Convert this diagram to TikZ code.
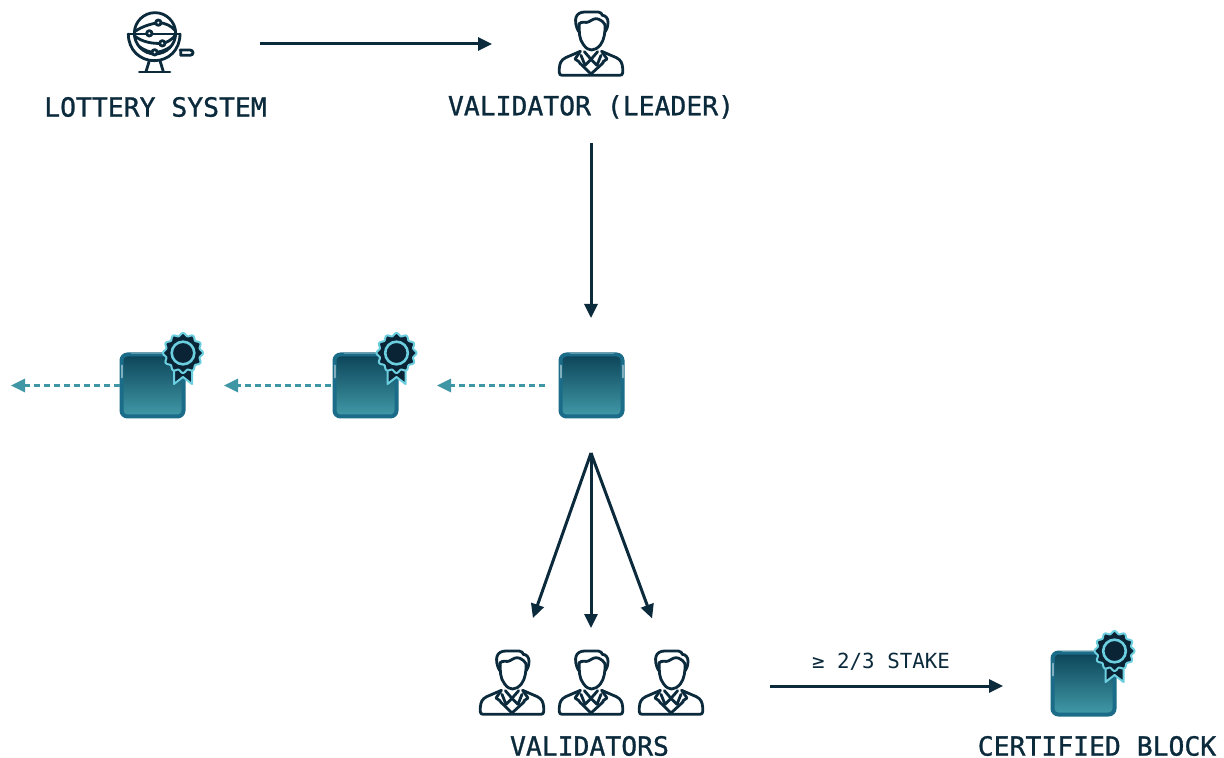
\documentclass[tikz,border=0pt]{standalone}
\usepackage{fontspec}
\setmainfont{DejaVu Sans Mono}
\usetikzlibrary{arrows.meta,calc}
\definecolor{ink}{HTML}{0B2A3C}
\definecolor{teal1}{HTML}{3F97A5}
\definecolor{blocktop}{HTML}{0C4459}
\definecolor{blockbot}{HTML}{419AA8}
\definecolor{blockedge}{HTML}{1B6C88}
\definecolor{badgeline}{HTML}{6CCFDF}
\definecolor{badgefill}{HTML}{0A2436}
\tikzset{
  x=0.5pt,y=-0.5pt,
  flow/.style={draw=ink,line width=1.5pt,-{Triangle[length=7pt,width=6.5pt]}},
  chain/.style={draw=teal1,line width=1.5pt,dash pattern=on 3pt off 2pt,-{Triangle[length=7pt,width=6.5pt]}},
  label/.style={text=ink,font=\fontsize{13.2pt}{15pt}\selectfont\addfontfeature{FakeBold=1},inner sep=0pt},
  small/.style={text=ink,font=\fontsize{10.4pt}{12pt}\selectfont,inner sep=0pt},
  iconbox/.style={minimum width=33pt,minimum height=33pt,inner sep=0pt},
  blockbox/.style={minimum size=31pt,inner sep=0pt,rounded corners=3pt,draw=blockedge,line width=2pt,top color=blocktop,bottom color=blockbot},
  icon/.style={draw=ink,line width=1.4pt,line join=round,line cap=round},
  person/.pic={
    \begin{scope}[x=1pt/6,y=-1pt/6,shift={(-138,-132)},icon]
      % hair
      \draw (101,95) .. controls (92,80) and (90,62) .. (93,52) .. controls (97,40) and (108,36) .. (120,36)
            -- (160,36) .. controls (168,36) and (170,42) .. (172,46) .. controls (182,46) and (190,56) .. (189,68)
            .. controls (188,80) and (186,88) .. (181,95);
      \draw (101,72) .. controls (112,62) and (122,70) .. (130,66) .. controls (142,60) and (150,52) .. (162,58)
            .. controls (170,62) and (176,66) .. (180,74);
      % face
      \draw (103,72) .. controls (102,95) and (102,118) .. (116,135) .. controls (124,146) and (132,150) .. (140,150)
            .. controls (150,150) and (158,144) .. (166,135) .. controls (178,120) and (181,95) .. (180,74);
      % shoulders
      \draw (106,154) -- (62,173) .. controls (48,180) and (44,190) .. (43,205) -- (43,218)
            .. controls (43,224) and (46,226) .. (52,226) -- (224,226) .. controls (230,226) and (233,224) .. (233,218)
            -- (233,205) .. controls (232,190) and (228,180) .. (214,173) -- (170,154);
      % lapels
      \draw (106,154) -- (90,177) -- (103,186);
      \draw (170,154) -- (186,177) -- (173,186);
      % collar
      \draw (118,155) -- (138,178) -- (158,155);
      \draw (108,166) -- (120,196) -- (138,178) -- (156,196) -- (168,166);
      % V
      \draw (103,188) -- (138,222) -- (175,188);
    \end{scope}
  },
  lottery/.pic={
    \begin{scope}[x=1pt/6,y=-1pt/6,shift={(-135,-132)},icon]
      \draw (135,100) circle (62);
      \draw (55,102) -- (210,102);
      \draw (55,102) .. controls (55,150) and (90,182) .. (133,182) .. controls (176,182) and (210,150) .. (210,102);
      \draw (74,95) .. controls (95,80) and (120,72) .. (145,68) .. controls (165,68) and (185,78) .. (196,92);
      \draw (74,108) .. controls (95,125) and (125,132) .. (157,130) .. controls (172,128) and (186,118) .. (196,106);
      \draw (88,140) .. controls (105,152) and (120,157) .. (134,157) .. controls (150,157) and (168,150) .. (182,140);
      \draw[fill=white] (145,68) circle (8);
      \draw[fill=white] (118,100) circle (8);
      \draw[fill=white] (157,130) circle (8);
      \draw[fill=white] (134,157) circle (8);
      \draw (118,182) -- (108,215);
      \draw (150,182) -- (160,215);
      \draw (88,216) -- (180,216);
      \draw (210,150) -- (240,150) .. controls (252,150) and (252,166) .. (240,166) -- (212,166) -- (212,150);
    \end{scope}
  },
  badge/.pic={
    \draw[draw=badgeline,fill=badgefill,line width=1pt,line join=round] (-9,10) -- (-9,31) -- (0,24) -- (9,31) -- (9,10) -- cycle;
    \draw[draw=badgeline,fill=badgefill,line width=1pt] plot[domain=0:360,samples=121,smooth] ({(18.6+1.4*cos(12*\x))*cos(\x)},{(18.6+1.4*cos(12*\x))*sin(\x)}) -- cycle;
    \draw[draw=badgeline,fill=badgefill,line width=1.3pt] (0,0) circle (11.3);
  },
  glint/.pic={
    \draw[draw=white,opacity=.45,line width=1pt,line cap=round] (-31,-20) -- (-31,-8);
    \draw[draw=white,opacity=.45,line width=1pt,line cap=round] (31,-20) -- (31,-8);
    \draw[draw=white,opacity=.3,line width=.6pt] (-22,-32) -- (22,-32);
  }
}
\begin{document}
\begin{tikzpicture}
\useasboundingbox[fill=white] (0,0) rectangle (1224,758);

% icons
\node[iconbox] (lottery) at (155,44) {};
\pic at (lottery) {lottery};
\node[iconbox] (leader) at (591,44) {};
\pic at (leader) {person};

\node[label] (lotterytext) at (155.5,107) {LOTTERY SYSTEM};
\node[label] (leadertext) at (591,107) {VALIDATOR (LEADER)};

% blocks
\node[blockbox] (b3) at (152.5,385.5) {};
\node[blockbox] (b2) at (365.5,385.5) {};
\node[blockbox] (b1) at (591.5,385.5) {};
\node[blockbox] (cert) at (1083.5,683.5) {};
\foreach \n in {b3,b2,b1,cert} {\pic at (\n) {glint};}
\pic at (183,353) {badge};
\pic at (396.5,353) {badge};
\pic at (1114.5,651) {badge};

\coordinate (chainend) at (11,385.5);
\coordinate (apex) at (591,453);

% validators
\node[iconbox] (v1) at (512,686) {};
\node[iconbox] (v2) at (591,686) {};
\node[iconbox] (v3) at (671,686) {};
\foreach \n in {v1,v2,v3} {\pic at ([yshift=1.5pt]\n) {person};}
\node[label] (vtext) at (589.5,746) {VALIDATORS};
\node[label] (certtext) at (1097,746) {CERTIFIED BLOCK};
\node[small] (staketext) at (881,662) {≥ 2/3 STAKE};

% connectors
\draw[flow,shorten <=52.5pt,shorten >=49.5pt] (lottery.center) -- (leader.center);
\draw[flow,shorten <=18pt,shorten >=33.75pt] (leadertext.center) -- (leadertext.center |- b1.center);
\draw[chain,shorten <=23.25pt,shorten >=35.75pt] (b1.center) -- (b2.center);
\draw[chain,shorten <=17.25pt,shorten >=35.75pt] (b2.center) -- (b3.center);
\draw[chain,shorten <=16.25pt] (b3.center) -- (chainend);
\draw[flow,shorten >=36pt] (apex) -- ([xshift=-1.5pt]v1.center);
\draw[flow,shorten >=29pt] (apex) -- (v2.center);
\draw[flow,shorten >=36pt] (apex) -- ([xshift=3pt]v3.center);
\draw[flow,shorten <=49.5pt,shorten >=40.25pt] (v3.center) -- (v3.center -| cert.center);
\end{tikzpicture}
\end{document}
